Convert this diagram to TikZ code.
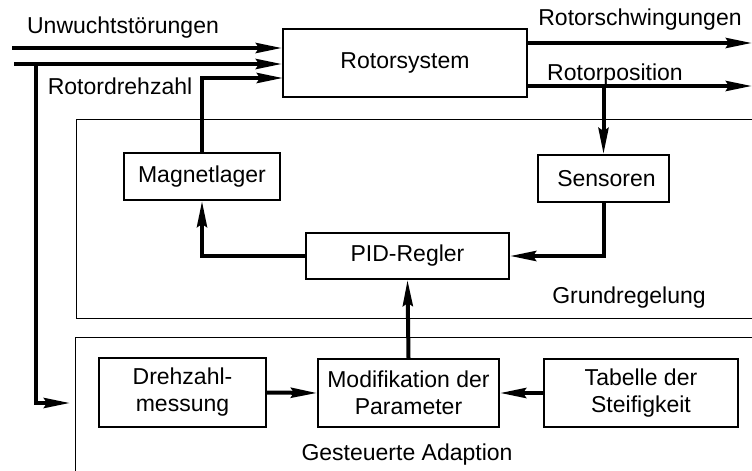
\documentclass[tikz,border=0pt]{standalone}
\usepackage{fontspec}
\setmainfont{Liberation Sans}
\usetikzlibrary{arrows.meta,calc}
\tikzset{
  txt/.style={font=\fontsize{23}{27}\selectfont, inner sep=0pt},
  blk/.style={draw, line width=2pt, txt, align=center, inner sep=0pt},
  frame/.style={draw, line width=1.3pt, inner sep=0pt},
  arr/.style={line width=4pt, -{Stealth[length=26pt,width=10pt,inset=3pt]}},
  ln/.style={line width=4pt},
}
\begin{document}
\begin{tikzpicture}[x=1pt,y=-1pt]
\clip (0,0) rectangle (752,471);
\fill[white] (0,0) rectangle (752,471);
% frames
\node[frame, minimum width=740pt, minimum height=199pt, anchor=north west] (grund) at (76,119) {};
\node[frame, minimum width=740pt, minimum height=200pt, anchor=north west] (gest) at (75,337) {};
% blocks
\node[blk, minimum width=244pt, minimum height=68pt] (rotor) at (405,63) {Rotorsystem};
\node[blk, minimum width=156pt, minimum height=47pt] (mag) at (202,176.5) {Magnetlager};
\node[blk, minimum width=131pt, minimum height=47pt] (sens) at (603.5,178.5) {\hspace*{6pt}Sensoren};
\node[blk, minimum width=203pt, minimum height=46pt] (pid) at (407.5,256) {PID-Regler};
\node[blk, minimum width=167pt, minimum height=69pt] (drehz) at (182.5,392.5) {Drehzahl-\\messung};
\node[blk, minimum width=181pt, minimum height=68pt] (modif) at (408.5,393) {Modifikation der\\Parameter};
\node[blk, minimum width=194pt, minimum height=68pt] (tab) at (641,393) {Tabelle der\\Steifigkeit};
% labels
\node[txt, anchor=base] (lu) at (123,33) {Unwuchtstörungen};
\node[txt, anchor=base] (lr) at (120,94) {Rotordrehzahl};
\node[txt, anchor=base] (ls) at (640,25) {Rotorschwingungen};
\node[txt, anchor=base] (lp) at (615,80) {Rotorposition};
\node[txt, anchor=base] (lg) at (629,303) {Grundregelung};
\node[txt, anchor=base] (la) at (407,460) {Gesteuerte Adaption};
% coordinates
\coordinate (in1) at (12,48);
\coordinate (in2) at (14,64);
\coordinate (tap) at (36,64);
\coordinate (gin) at (70,403);
\coordinate (r3) at (283,78);
\coordinate (o1) at (752,43);
\coordinate (o2) at (752,86);
% connectors
\draw[arr] (in1) -- (in1 -| rotor.west);
\draw[arr] (in2) -- (in2 -| rotor.west);
\draw[arr] (tap) |- (gin);
\draw[arr] (mag.north) |- (r3);
\draw[arr] (rotor.east |- o1) -- (o1);
\draw[arr] (rotor.east |- o2) -- (o2);
\draw[arr] (sens.north |- o2) -- (sens.north);
\draw[arr] (sens.south) |- (pid.east);
\draw[arr] (pid.west) -| (mag.south);
\draw[arr] (modif.north) -- (pid.south);
\draw[arr] (drehz.east) -- (modif.west);
\draw[arr] (tab.west) -- (modif.east);
\end{tikzpicture}
\end{document}
